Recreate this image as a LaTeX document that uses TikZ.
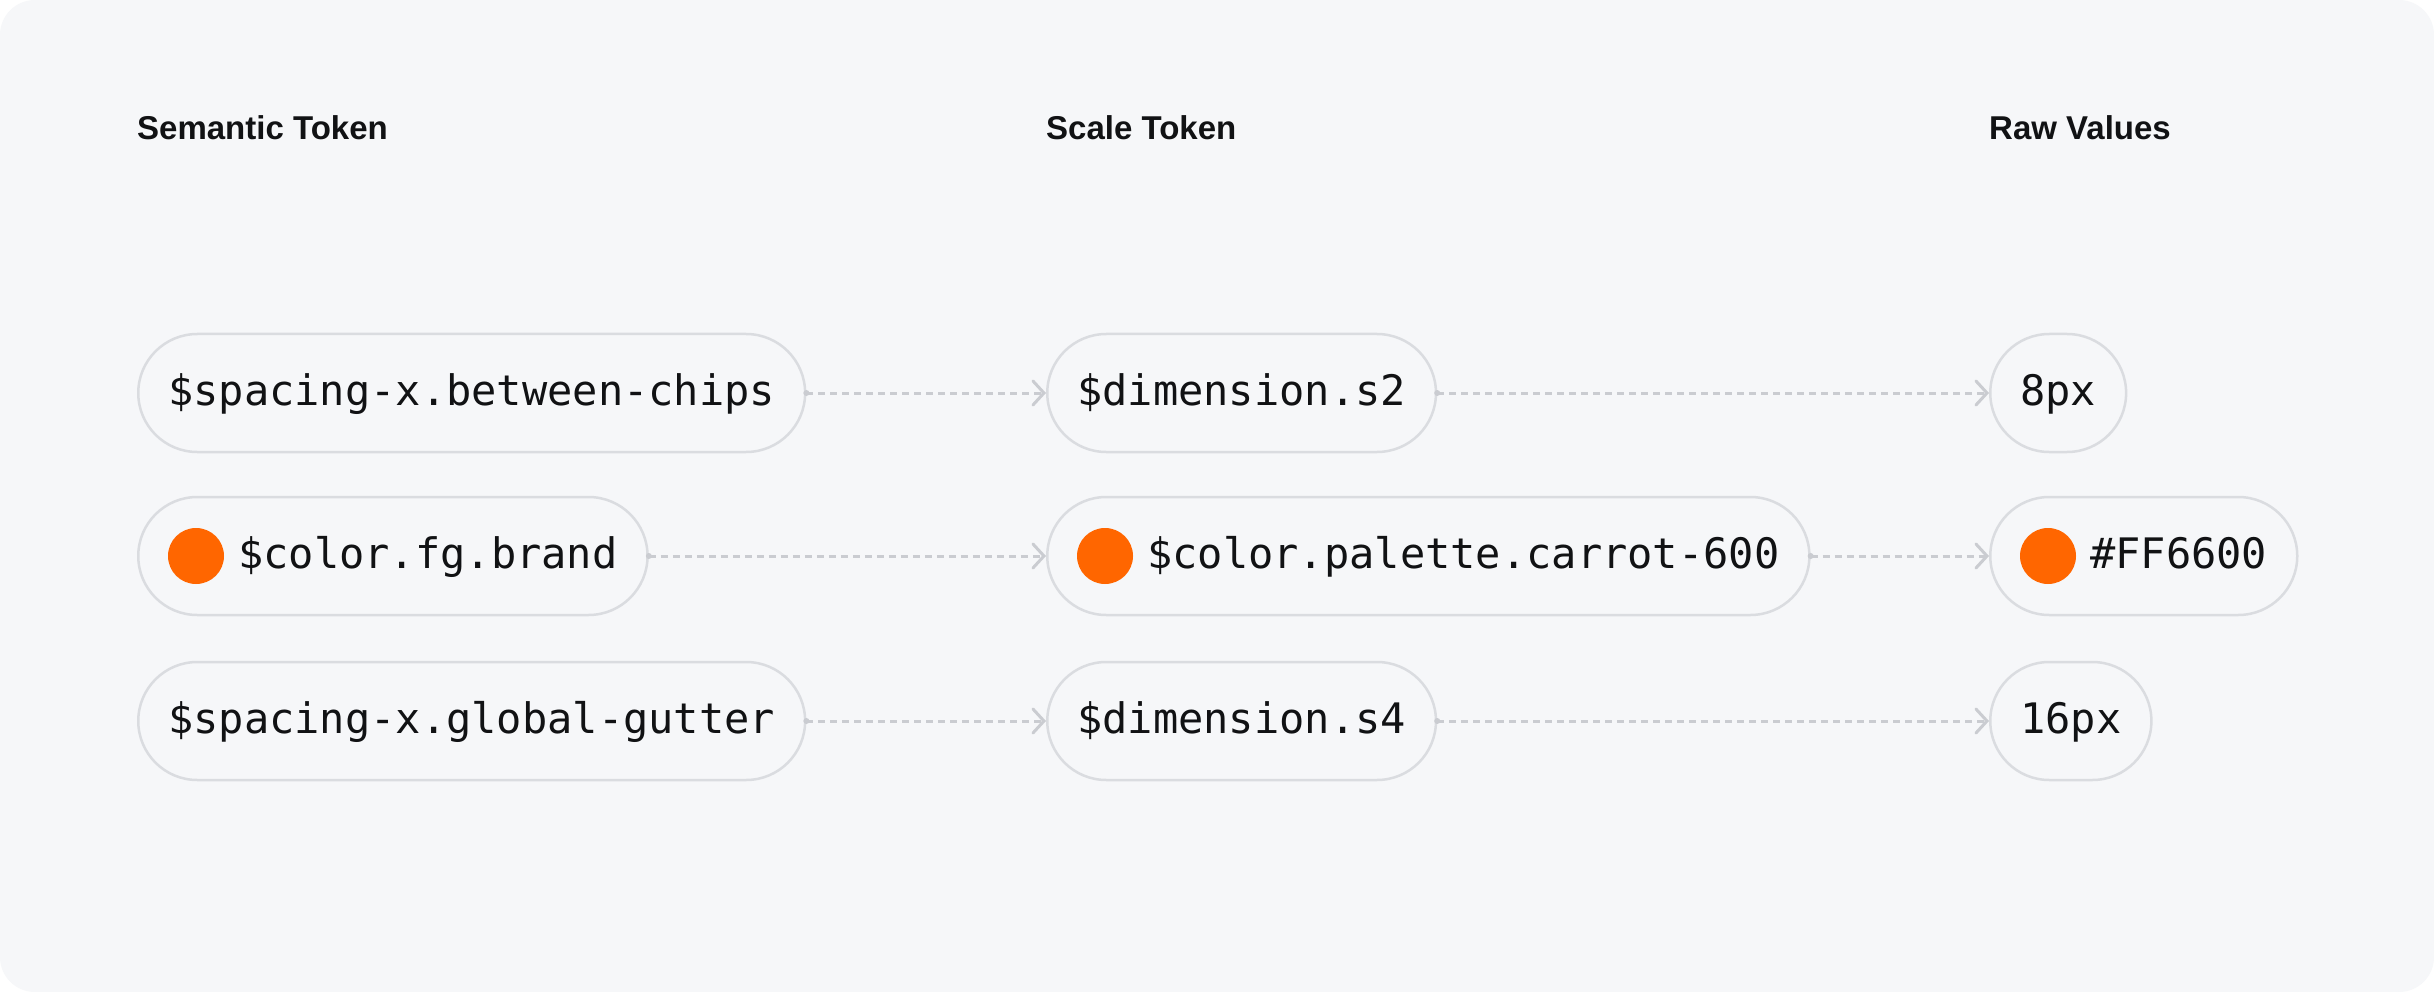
\documentclass[tikz,border=0pt]{standalone}
\usepackage{fontspec}
\setmainfont{Liberation Sans}
\newfontfamily\monof{DejaVu Sans Mono}
\usetikzlibrary{arrows.meta}
\definecolor{bg}{HTML}{F6F7F9}
\definecolor{chipline}{HTML}{DADCE0}
\definecolor{linkc}{HTML}{CACCD1}
\definecolor{ink}{HTML}{111214}
\definecolor{carrot}{HTML}{FF6600}
\begin{document}
\begin{tikzpicture}[x=1pt,y=-1pt,
  chip/.style={draw=chipline, line width=2.5pt, fill=bg, rounded corners=59pt,
    minimum height=118pt, inner xsep=30pt, inner ysep=0pt, text height=30pt,
    text depth=5.2pt, font=\monof\fontsize{42}{50}\selectfont, text=ink, anchor=west},
  dot/.style={circle, fill=carrot, minimum size=56pt, inner sep=0pt},
  head/.style={anchor=base west, font=\bfseries\fontsize{33}{40}\selectfont, text=ink, inner sep=0pt},
  link/.style={draw=linkc, line width=3pt, dash pattern=on 7pt off 5pt,
    -{Straight Barb[length=11pt,width=24pt,line width=3pt,line cap=round]}},
  startdot/.style={fill=linkc}
]
\useasboundingbox (0,0) rectangle (2434,992);
\fill[white] (0,0) rectangle (2434,992);
\fill[bg, rounded corners=35pt] (0,0) rectangle (2434,992);

\node[head] (h1) at (137,140) {Semantic Token};
\node[head] (h2) at (1046,140) {Scale Token};
\node[head] (h3) at (1989,140) {Raw Values};

% row 1
\node[chip] (a1) at (137,393) {\$spacing-x.between-chips};
\node[chip] (b1) at (1046,393) {\$dimension.s2};
\node[chip] (c1) at (1989,393) {8px};
% row 2
\node[chip] (a2) at (137,556) {\hspace*{70pt}\$color.fg.brand};
\node[chip] (b2) at (1046,556) {\hspace*{70pt}\$color.palette.carrot-600};
\node[chip] (c2) at (1989,556) {\hspace*{70pt}\#FF6600};
\node[dot] (da2) at ([xshift=59pt]a2.west) {};
\node[dot] (db2) at ([xshift=59pt]b2.west) {};
\node[dot] (dc2) at ([xshift=59pt]c2.west) {};
% row 3
\node[chip] (a3) at (137,721) {\$spacing-x.global-gutter};
\node[chip] (b3) at (1046,721) {\$dimension.s4};
\node[chip] (c3) at (1989,721) {16px};

\foreach \s/\t in {a1/b1,b1/c1,a2/b2,b2/c2,a3/b3,b3/c3}{
  \draw[link] (\s.east) -- (\t.west);
  \fill[startdot] (\s.east) circle (3pt);
}
\end{tikzpicture}
\end{document}
